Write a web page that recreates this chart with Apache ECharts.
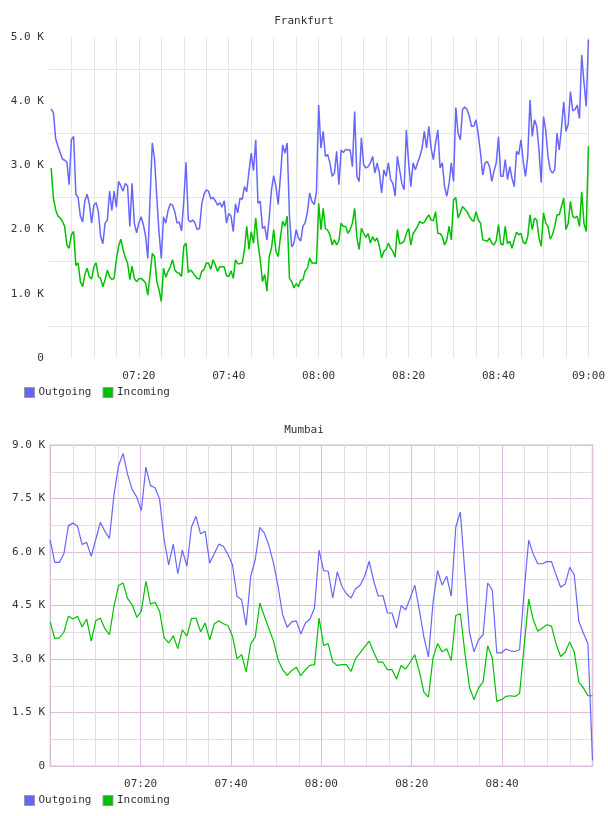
<!DOCTYPE html>
<html>
<head>
<meta charset="utf-8">
<script src="https://cdn.jsdelivr.net/npm/echarts@6/dist/echarts.min.js"></script>
<style>
  html, body { margin: 0; padding: 0; background: #fff; }
  #chart { width: 608px; height: 816px; }
</style>
</head>
<body>
<div id="chart"></div>
<script>
// x values are minutes after 07:00
const timeLabels = ['07:00', '07:20', '07:40', '08:00', '08:20', '08:40', '09:00']

// Frankfurt: one sample every 30 s, 07:00:30 .. 09:00
const frankfurtOut = [
  3880, 3820, 3420, 3300, 3200, 3100, 3080, 3050, 2700, 3400,
  3450, 2550, 2500, 2210, 2120, 2450, 2550, 2400, 2100, 2380,
  2420, 2280, 1900, 1780, 2100, 2150, 2600, 2300, 2600, 2350,
  2750, 2680, 2600, 2720, 2680, 2050, 2720, 2100, 1950, 2100,
  2200, 2080, 1900, 1550, 2500, 3350, 3100, 2500, 1950, 1550,
  2200, 2100, 2300, 2400, 2380, 2280, 2100, 2120, 1980, 2450,
  3050, 2150, 2120, 2150, 2100, 2000, 2020, 2400, 2550, 2620,
  2600, 2480, 2500, 2450, 2380, 2420, 2350, 2450, 2100, 2250,
  2210, 1970, 2400, 2260, 2490, 2470, 2670, 2590, 2910, 3190,
  2920, 3400, 2410, 2440, 2020, 2050, 1840, 2180, 2620, 2840,
  2670, 2390, 2830, 3320, 3190, 3350, 2210, 1730, 1790, 2000,
  1870, 1820, 2050, 2110, 2270, 2570, 2440, 2390, 2580, 3940,
  3270, 3530, 3140, 3170, 3040, 2830, 2880, 3220, 2700, 3240,
  3200, 3250, 3240, 3240, 2980, 3840, 2830, 2750, 3430, 3010,
  2960, 2980, 3040, 3140, 2880, 3040, 2880, 2570, 2930, 2830,
  3040, 2780, 2720, 2520, 3140, 2930, 2720, 2620, 3550, 3050,
  2670, 3040, 2930, 3040, 3140, 3270, 3530, 3270, 3610, 3270,
  3090, 3350, 3550, 2960, 3040, 2670, 2520, 2720, 3040, 2750,
  3900, 3500, 3400, 3870, 3910, 3870, 3770, 3610, 3610, 3710,
  3480, 3190, 2850, 3040, 3060, 2980, 2750, 2910, 3040, 3450,
  2830, 2830, 3090, 2780, 2980, 2800, 2670, 3220, 3170, 3400,
  3060, 2830, 3140, 4020, 3450, 3710, 3610, 3240, 2730, 3760,
  3550, 3140, 2930, 2880, 2930, 3500, 3240, 3580, 3990, 3530,
  3640, 4150, 3850, 3870, 3940, 3730, 4720, 4300, 3920, 4960
]
const frankfurtIn = [
  2960, 2490, 2310, 2210, 2180, 2130, 2050, 1760, 1710, 1920,
  1970, 1440, 1480, 1190, 1110, 1300, 1400, 1270, 1230, 1420,
  1480, 1270, 1240, 1110, 1220, 1370, 1270, 1220, 1240, 1530,
  1740, 1850, 1690, 1560, 1480, 1220, 1430, 1240, 1190, 1230,
  1240, 1210, 1170, 980, 1300, 1630, 1580, 1190, 1060, 880,
  1400, 1260, 1350, 1420, 1530, 1370, 1330, 1320, 1270, 1740,
  1790, 1330, 1370, 1330, 1280, 1240, 1230, 1350, 1380, 1480,
  1480, 1380, 1530, 1450, 1350, 1420, 1420, 1420, 1280, 1270,
  1360, 1240, 1530, 1470, 1470, 1480, 1690, 2050, 1690, 1970,
  1790, 2180, 1790, 1530, 1190, 1300, 1040, 1580, 1710, 2000,
  1660, 1580, 1890, 2130, 2050, 2210, 1240, 1190, 1090, 1160,
  1110, 1210, 1220, 1360, 1400, 1560, 1480, 1480, 1470, 2410,
  2000, 2330, 2020, 1990, 1920, 1760, 1840, 1760, 1830, 2100,
  2050, 2050, 1940, 2000, 2100, 2330, 1870, 1690, 2020, 1940,
  1880, 1940, 1790, 1890, 1820, 1870, 1740, 1560, 1660, 1690,
  1790, 1710, 1660, 1570, 2000, 1780, 1790, 1820, 1940, 2020,
  1760, 1940, 1990, 2050, 2130, 2100, 2110, 2180, 2230, 2150,
  2140, 2280, 1940, 1940, 1890, 1760, 1840, 2050, 1840, 2460,
  2500, 2180, 2260, 2360, 2320, 2280, 2210, 2150, 2130, 2280,
  2150, 2100, 1840, 1830, 1820, 1870, 1790, 1760, 1830, 2080,
  1780, 1760, 2050, 1780, 1820, 1710, 1840, 1960, 1920, 1940,
  1800, 1780, 1890, 2230, 2000, 2180, 2150, 1870, 1740, 2260,
  2100, 2050, 1850, 1920, 2050, 2230, 2230, 2360, 2490, 2000,
  2100, 2440, 2210, 2180, 2210, 2050, 2590, 2100, 1970, 3300
]

// Mumbai: 120 samples spread over 07:00 .. 09:00
const mumbaiOut = [
  6330, 5710, 5710, 5950, 6740, 6810, 6720, 6210, 6270, 5880,
  6350, 6830, 6580, 6380, 7610, 8420, 8760, 8170, 7750, 7540,
  7160, 8380, 7860, 7800, 7490, 6350, 5640, 6220, 5390, 6050,
  5600, 6700, 7000, 6510, 6580, 5690, 5950, 6220, 6160, 5930,
  5640, 4760, 4660, 3940, 5320, 5790, 6690, 6530, 6180, 5690,
  5040, 4240, 3890, 4040, 4070, 3700, 4010, 4120, 4430, 6050,
  5480, 5460, 4710, 5440, 5040, 4830, 4710, 4970, 5070, 5320,
  5740, 5180, 4760, 4780, 4290, 4290, 3870, 4500, 4380, 4710,
  5070, 4380, 3620, 3060, 4570, 5480, 5070, 5320, 4760, 6700,
  7120, 5410, 3750, 3200, 3540, 3680, 5130, 4940, 3170, 3170,
  3280, 3230, 3210, 3260, 4900, 6330, 5940, 5670, 5670, 5730,
  5730, 5360, 5010, 5100, 5570, 5360, 4060, 3730, 3430, 160
]
const mumbaiIn = [
  4040, 3570, 3590, 3750, 4200, 4120, 4200, 3900, 4120, 3500,
  4070, 4150, 3850, 3680, 4480, 5060, 5130, 4690, 4520, 4170,
  4340, 5180, 4540, 4590, 4340, 3590, 3450, 3650, 3290, 3820,
  3640, 4130, 4150, 3760, 4010, 3540, 3980, 4070, 3990, 3940,
  3640, 3010, 3120, 2640, 3420, 3620, 4570, 4200, 3850, 3500,
  2980, 2700, 2540, 2680, 2770, 2530, 2700, 2820, 2840, 4150,
  3380, 3430, 2920, 2820, 2840, 2840, 2650, 3010, 3170, 3340,
  3500, 3190, 2910, 2910, 2700, 2700, 2440, 2820, 2720, 2910,
  3120, 2650, 2070, 1930, 3030, 3430, 3200, 3290, 2960, 4220,
  4270, 3170, 2210, 1860, 2190, 2360, 3370, 3030, 1810, 1860,
  1950, 1970, 1950, 2030, 3360, 4680, 4100, 3780, 3870, 3960,
  3920, 3430, 3070, 3190, 3480, 3200, 2350, 2190, 1970, 1970
]

const frankfurtTimes = frankfurtOut.map((_, i) => 0.5 + i * 0.5)
const mumbaiTimes = mumbaiOut.map((_, i) => i * 120 / (mumbaiOut.length - 1))

const FONT = 'DejaVu Sans Mono'
const BLUE = '#6666ff'
const GREEN = '#00c000'
const TEXT = '#333'

const pairs = (xs, ys) => ys.map((v, i) => [xs[i], v])
const kLabel = (v) => v === 0 ? '0' : (v / 1000).toFixed(1) + ' K'
const timeLabel = (hideMax) => (v) => {
  if (v === 0 || (hideMax && v === 120)) return ''
  return timeLabels[Math.round(v / 20)]
}

const chart = echarts.init(document.getElementById('chart'))
chart.setOption({
  animation: false,
  backgroundColor: '#fff',
  textStyle: {fontFamily: FONT},
  title: [
    {text: 'Frankfurt', left: 'center', top: 11,
      textStyle: {fontFamily: FONT, fontSize: 11, fontWeight: 'normal', color: TEXT}},
    {text: 'Mumbai', left: 'center', top: 420,
      textStyle: {fontFamily: FONT, fontSize: 11, fontWeight: 'normal', color: TEXT}}
  ],
  legend: [
    {data: ['Outgoing', 'Incoming'], left: 24, top: 387, padding: 0,
      itemWidth: 10, itemHeight: 10, itemGap: 11, icon: 'rect',
      itemStyle: {borderColor: '#999', borderWidth: 1},
      textStyle: {fontFamily: FONT, fontSize: 11, color: TEXT, padding: [0, 0, 0, -1]}},
    {data: ['Outgoing', 'Incoming'], left: 24, top: 795, padding: 0,
      itemWidth: 10, itemHeight: 10, itemGap: 11, icon: 'rect',
      itemStyle: {borderColor: '#999', borderWidth: 1},
      textStyle: {fontFamily: FONT, fontSize: 11, color: TEXT, padding: [0, 0, 0, -1]}}
  ],
  grid: [
    {left: 48.9, right: 16.7, top: 37, height: 321},
    {left: 50.2, right: 15.5, top: 445, height: 321,
      show: true, borderColor: '#eedcee', borderWidth: 2}
  ],
  xAxis: [
    {type: 'value', gridIndex: 0, min: 0, max: 120, interval: 20,
      axisLine: {show: false}, axisTick: {show: false},
      axisLabel: {formatter: timeLabel(false), fontFamily: FONT, fontSize: 11, color: TEXT, margin: 13},
      splitLine: {show: true, showMinLine: false, lineStyle: {color: '#e6e6e6', width: 1}},
      minorTick: {show: false, splitNumber: 4},
      minorSplitLine: {show: true, lineStyle: {color: '#e6e6e6', width: 1}}},
    {type: 'value', gridIndex: 1, min: 0, max: 120, interval: 20,
      axisLine: {show: false}, axisTick: {show: false},
      axisLabel: {formatter: timeLabel(true), fontFamily: FONT, fontSize: 11, color: TEXT, margin: 13},
      splitLine: {show: true, lineStyle: {color: '#dcbedc', width: 1}},
      minorTick: {show: false, splitNumber: 4},
      minorSplitLine: {show: true, lineStyle: {color: '#e4dce4', width: 1}}}
  ],
  yAxis: [
    {type: 'value', gridIndex: 0, min: 0, max: 5000, interval: 1000,
      axisLine: {show: false}, axisTick: {show: false},
      axisLabel: {formatter: kLabel, fontFamily: FONT, fontSize: 11, color: TEXT, margin: 5},
      splitLine: {show: false},
      minorTick: {show: false, splitNumber: 2},
      minorSplitLine: {show: true, lineStyle: {color: '#e6e6e6', width: 1}}},
    {type: 'value', gridIndex: 1, min: 0, max: 9000, interval: 1500,
      axisLine: {show: false}, axisTick: {show: false},
      axisLabel: {formatter: kLabel, fontFamily: FONT, fontSize: 11, color: TEXT, margin: 5},
      splitLine: {show: true, lineStyle: {color: '#dcbedc', width: 1}},
      minorTick: {show: false, splitNumber: 2},
      minorSplitLine: {show: true, lineStyle: {color: '#e4dce4', width: 1}}}
  ],
  series: [
    {name: 'Outgoing', type: 'line', xAxisIndex: 0, yAxisIndex: 0, symbol: 'none',
      data: pairs(frankfurtTimes, frankfurtOut), itemStyle: {color: BLUE},
      lineStyle: {color: BLUE, width: 1.5}},
    {name: 'Incoming', type: 'line', xAxisIndex: 0, yAxisIndex: 0, symbol: 'none',
      data: pairs(frankfurtTimes, frankfurtIn), itemStyle: {color: GREEN},
      lineStyle: {color: GREEN, width: 1.5}},
    {name: 'Outgoing', type: 'line', xAxisIndex: 1, yAxisIndex: 1, symbol: 'none',
      data: pairs(mumbaiTimes, mumbaiOut), itemStyle: {color: BLUE},
      lineStyle: {color: BLUE, width: 1.2}},
    {name: 'Incoming', type: 'line', xAxisIndex: 1, yAxisIndex: 1, symbol: 'none',
      data: pairs(mumbaiTimes, mumbaiIn), itemStyle: {color: GREEN},
      lineStyle: {color: GREEN, width: 1.2}}
  ]
})
</script>
</body>
</html>
